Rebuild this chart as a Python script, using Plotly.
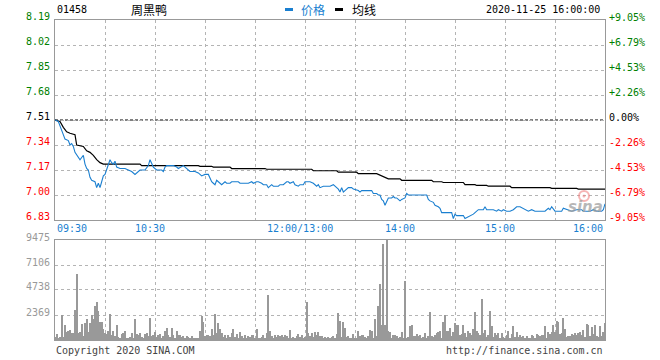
import plotly.graph_objects as go

# ---------------- data ----------------
stock_code = "01458"
stock_name = "周黑鸭"
timestamp = "2020-11-25 16:00:00"
prev_close = 7.51

# trading minutes since 09:30 (lunch break removed: 150 = 12:00/13:00)
price_minutes = [0, 2, 3, 4, 6, 8, 9, 10, 11, 12, 14, 15, 17, 18, 19, 20, 21, 22, 24, 25,
                 26, 27, 28, 29, 30, 31, 32, 33, 34, 35, 36, 37, 39, 42, 44, 46, 48, 49, 51, 54,
                 56, 57, 58, 59, 61, 64, 65, 66, 67, 69, 71, 73, 74, 77, 79, 80, 81, 84, 86, 88,
                 90, 92, 93, 94, 95, 96, 97, 98, 100, 102, 103, 105, 106, 108, 110, 111, 116, 118, 119, 121,
                 122, 124, 125, 127, 128, 130, 131, 134, 135, 137, 139, 140, 141, 143, 144, 146, 147, 149, 150, 151,
                 153, 155, 156, 157, 158, 159, 161, 163, 165, 167, 169, 170, 171, 172, 173, 175, 176, 178, 179, 182,
                 183, 184, 190, 191, 193, 194, 195, 196, 197, 198, 199, 200, 202, 203, 204, 205, 206, 207, 208, 210,
                 211, 212, 213, 216, 219, 221, 223, 224, 225, 227, 228, 230, 231, 232, 233, 235, 237, 238, 239, 240,
                 241, 242, 245, 246, 248, 249, 251, 252, 254, 255, 257, 258, 259, 262, 263, 265, 266, 268, 269, 271,
                 273, 275, 277, 279, 281, 282, 284, 286, 288, 291, 294, 296, 297, 298, 300, 302, 304, 305, 307, 310,
                 313, 316, 317, 319, 321, 323, 325, 328, 329, 330]
price_values = [7.51, 7.50, 7.47, 7.44, 7.38, 7.37, 7.34, 7.35, 7.33, 7.29, 7.26, 7.24, 7.27, 7.21, 7.18, 7.17, 7.12, 7.10, 7.09, 7.05,
                7.08, 7.05, 7.09, 7.13, 7.14, 7.17, 7.20, 7.24, 7.22, 7.21, 7.23, 7.19, 7.18, 7.18, 7.17, 7.16, 7.14, 7.15, 7.17, 7.17,
                7.20, 7.24, 7.22, 7.19, 7.17, 7.17, 7.16, 7.19, 7.20, 7.20, 7.20, 7.19, 7.18, 7.20, 7.18, 7.17, 7.16, 7.16, 7.15, 7.13,
                7.14, 7.14, 7.11, 7.09, 7.08, 7.07, 7.10, 7.09, 7.07, 7.09, 7.08, 7.08, 7.09, 7.09, 7.09, 7.08, 7.08, 7.09, 7.08, 7.09,
                7.09, 7.08, 7.07, 7.07, 7.05, 7.07, 7.06, 7.06, 7.07, 7.07, 7.09, 7.09, 7.08, 7.09, 7.07, 7.06, 7.07, 7.07, 7.09, 7.09,
                7.09, 7.08, 7.07, 7.06, 7.07, 7.05, 7.06, 7.06, 7.06, 7.07, 7.05, 7.04, 7.02, 7.05, 7.02, 7.04, 7.05, 7.05, 7.04, 7.03,
                7.02, 7.03, 7.03, 7.01, 7.01, 7.00, 7.00, 6.97, 6.96, 6.93, 6.95, 6.98, 6.98, 6.99, 6.98, 6.98, 6.97, 6.96, 6.97, 6.98,
                7.01, 7.00, 7.00, 7.00, 7.00, 7.00, 7.00, 6.97, 6.96, 6.95, 6.93, 6.92, 6.91, 6.88, 6.88, 6.88, 6.88, 6.88, 6.84, 6.87,
                6.86, 6.86, 6.86, 6.84, 6.85, 6.86, 6.87, 6.88, 6.90, 6.90, 6.90, 6.92, 6.90, 6.90, 6.90, 6.89, 6.90, 6.89, 6.90, 6.89,
                6.89, 6.90, 6.92, 6.92, 6.91, 6.90, 6.89, 6.90, 6.89, 6.89, 6.89, 6.91, 6.90, 6.92, 6.89, 6.89, 6.89, 6.91, 6.90, 6.89,
                6.90, 6.90, 6.89, 6.89, 6.89, 6.90, 6.89, 6.89, 6.90, 6.94]

avg_minutes = [0, 3, 5, 7, 9, 12, 13, 17, 19, 21, 23, 25, 27, 29, 51, 52, 86, 87, 94, 95,
               105, 106, 126, 127, 154, 155, 169, 170, 181, 182, 193, 196, 199, 200, 207, 208, 226, 227, 232, 233,
               245, 246, 252, 253, 259, 260, 273, 274, 297, 298, 313, 314, 330]
avg_values = [7.51, 7.50, 7.46, 7.43, 7.42, 7.41, 7.34, 7.33, 7.30, 7.29, 7.27, 7.24, 7.22, 7.21, 7.21, 7.20, 7.20, 7.195, 7.195, 7.19,
              7.19, 7.18, 7.18, 7.175, 7.175, 7.165, 7.165, 7.155, 7.155, 7.145, 7.145, 7.13, 7.12, 7.11, 7.11, 7.10, 7.10, 7.09, 7.09, 7.085,
              7.085, 7.07, 7.07, 7.065, 7.065, 7.06, 7.06, 7.05, 7.05, 7.045, 7.045, 7.04, 7.04]

# per-minute volume, minute 0..330
volume = [
    300, 570, 190, 250, 2400, 250, 1450, 760, 820, 980,
    660, 630, 2880, 6290, 630, 760, 1520, 350, 1610, 2020,
    760, 1610, 2400, 2020, 3250, 3600, 2780, 1710, 1710, 1070,
    630, 570, 820, 2460, 500, 880, 350, 1390, 250, 190,
    570, 660, 880, 190, 130, 250, 660, 190, 2020, 570,
    500, 660, 250, 190, 570, 660, 350, 2090, 350, 500,
    760, 250, 440, 570, 190, 350, 880, 1140, 500, 250,
    1140, 500, 190, 820, 500, 500, 250, 350, 130, 350,
    250, 190, 350, 190, 130, 130, 190, 880, 2240, 1710,
    350, 440, 500, 350, 1070, 500, 2460, 660, 1610, 1070,
    660, 250, 500, 190, 500, 250, 660, 1070, 250, 570,
    190, 760, 350, 190, 440, 190, 350, 250, 500, 500,
    190, 1070, 190, 130, 250, 440, 190, 660, 4300, 820,
    350, 190, 500, 250, 500, 350, 500, 250, 500, 350,
    190, 980, 190, 250, 130, 350, 570, 250, 440, 190,
    250, 3600, 660, 350, 660, 250, 760, 500, 760, 350,
    350, 190, 250, 190, 250, 190, 250, 350, 190, 570,
    2560, 1830, 250, 1710, 1140, 250, 350, 130, 130, 570,
    130, 190, 880, 350, 500, 500, 250, 190, 350, 980,
    820, 190, 2020, 350, 3250, 5310, 1390, 9130, 1390, 9475,
    880, 760, 190, 500, 440, 350, 190, 250, 760, 190,
    5560, 190, 250, 1300, 1450, 350, 350, 570, 350, 500,
    190, 250, 660, 190, 350, 2650, 350, 250, 500, 660,
    760, 880, 190, 1710, 2340, 820, 880, 1140, 350, 760,
    1610, 1390, 1450, 500, 570, 1390, 660, 250, 820, 660,
    500, 1070, 2650, 880, 660, 500, 3920, 660, 980, 250,
    500, 2780, 1300, 250, 660, 500, 660, 190, 660, 250,
    190, 440, 820, 190, 570, 1300, 250, 760, 250, 500,
    250, 350, 190, 350, 130, 190, 440, 350, 190, 570,
    500, 350, 440, 440, 1300, 190, 760, 570, 760, 1390,
    760, 1830, 1710, 570, 660, 2090, 1070, 250, 350, 350,
    570, 500, 660, 500, 660, 760, 440, 980, 250, 1520,
    1390, 350, 1200, 570, 1390, 350, 250, 1300, 350, 760,
    1610,
]
volume_minutes = list(range(len(volume)))

price_ticks = [6.83, 7.00, 7.17, 7.34, 7.51, 7.68, 7.85, 8.02, 8.19]
price_tick_labels = ["6.83", "7.00", "7.17", "7.34", "7.51", "7.68", "7.85", "8.02", "8.19"]
pct_tick_labels = ["-9.05%", "-6.79%", "-4.53%", "-2.26%", "0.00%", "+2.26%", "+4.53%", "+6.79%", "+9.05%"]
vol_ticks = [2369, 4738, 7106, 9475]
vol_tick_labels = ["2369", "4738", "7106", "9475"]
time_minutes = [0, 60, 150, 210, 270, 330]
time_labels = ["09:30", "10:30", "12:00/13:00", "14:00", "15:00", "16:00"]
grid_minutes = list(range(0, 331, 30))

# ---------------- styling ----------------
W, H = 660, 360
L, R = 55, 605
P_TOP, P_BOT = 20, 220
V_TOP, V_BOT = 240, 340
MONO = "DejaVu Sans Mono"
CJK = "Noto Sans CJK SC"
BLUE = "#1a7fd0"
GREEN = "#008000"
RED = "#ff0000"
GRID = "#b4b4b4"
FRAME = "#999999"


def px(xp):
    return xp / W


def py(yp):
    return 1 - yp / H


fig = go.Figure()
fig.add_trace(go.Bar(x=volume_minutes, y=volume, width=0.6,
                     marker=dict(color="#999999", line=dict(width=0)),
                     xaxis="x2", yaxis="y2", hoverinfo="skip"))
fig.add_trace(go.Scatter(x=avg_minutes, y=avg_values, mode="lines",
                         line=dict(color="#000000", width=1.2), xaxis="x", yaxis="y"))
fig.add_trace(go.Scatter(x=price_minutes, y=price_values, mode="lines",
                         line=dict(color=BLUE, width=1.1), xaxis="x", yaxis="y"))

axis_common = dict(showgrid=True, gridcolor=GRID, griddash="dot", gridwidth=1,
                   zeroline=False, showline=True, linecolor=FRAME, linewidth=1,
                   mirror=True, ticks="", showticklabels=False, fixedrange=True)

fig.update_layout(
    width=W, height=H, margin=dict(l=0, r=0, t=0, b=0),
    paper_bgcolor="white", plot_bgcolor="white", showlegend=False,
    bargap=0,
    xaxis=dict(domain=[px(L), px(R)], range=[0, 330], tickvals=grid_minutes,
               anchor="y", **axis_common),
    yaxis=dict(domain=[py(P_BOT), py(P_TOP)], range=[price_ticks[0], price_ticks[-1]],
               tickvals=price_ticks, anchor="x", **axis_common),
    xaxis2=dict(domain=[px(L), px(R)], range=[0, 330], tickvals=grid_minutes,
                anchor="y2", **axis_common),
    yaxis2=dict(domain=[py(V_BOT), py(V_TOP)], range=[0, vol_ticks[-1]],
                tickvals=vol_ticks, anchor="x2", **axis_common),
)

# previous close dashed line
fig.add_shape(type="line", xref="x", yref="y", x0=0, x1=330, y0=prev_close, y1=prev_close,
              line=dict(color="black", width=1, dash="3px,2px"), layer="below")

ann = []
# left price labels and right percentage labels
for v, lab, pct in zip(price_ticks, price_tick_labels, pct_tick_labels):
    col = GREEN if v > prev_close + 1e-9 else (RED if v < prev_close - 1e-9 else "#000000")
    ann.append(dict(x=px(52), xref="paper", y=v, yref="y", text=lab, showarrow=False,
                    xanchor="right", yanchor="middle", yshift=3.5,
                    font=dict(family=MONO, size=10, color=col)))
    ann.append(dict(x=px(607), xref="paper", y=v, yref="y", text=pct, showarrow=False,
                    xanchor="left", yanchor="middle", yshift=3,
                    font=dict(family=MONO, size=10, color=col)))
# volume labels
for v, lab in zip(vol_ticks, vol_tick_labels):
    ann.append(dict(x=px(52), xref="paper", y=v, yref="y2", text=lab, showarrow=False,
                    xanchor="right", yanchor="middle", yshift=3,
                    font=dict(family=MONO, size=10, color="#999999")))
# time labels
for i, (m, lab) in enumerate(zip(time_minutes, time_labels)):
    if i == 0:
        xa, xs = "left", 0
    elif i == len(time_minutes) - 1:
        xa, xs = "right", 0
    else:
        xa, xs = "center", -5
    ann.append(dict(x=m, xref="x", y=py(228), yref="paper", text=lab, showarrow=False,
                    xanchor=xa, yanchor="middle", xshift=xs,
                    font=dict(family=MONO, size=10, color=BLUE)))
# header
ann.append(dict(x=px(55), y=py(9), xref="paper", yref="paper", text=stock_code, showarrow=False,
                xanchor="left", yanchor="middle", font=dict(family=MONO, size=10, color="#000000")))
ann.append(dict(x=px(129), y=py(9), xref="paper", yref="paper", text=stock_name, showarrow=False,
                xanchor="left", yanchor="middle", font=dict(family=CJK, size=12, color="#000000")))
ann.append(dict(x=px(299), y=py(9), xref="paper", yref="paper", text="价格", showarrow=False,
                xanchor="left", yanchor="middle", font=dict(family=CJK, size=12, color=BLUE)))
ann.append(dict(x=px(350), y=py(9), xref="paper", yref="paper", text="均线", showarrow=False,
                xanchor="left", yanchor="middle", font=dict(family=CJK, size=12, color="#000000")))
ann.append(dict(x=px(602), y=py(9), xref="paper", yref="paper", text=timestamp, showarrow=False,
                xanchor="right", yanchor="middle", font=dict(family=MONO, size=10, color="#000000")))
# footer
ann.append(dict(x=px(54), y=py(350), xref="paper", yref="paper", text="Copyright 2020 SINA.COM",
                showarrow=False, xanchor="left", yanchor="middle",
                font=dict(family=MONO, size=10, color="#444444")))
ann.append(dict(x=px(605), y=py(350), xref="paper", yref="paper", text="http://finance.sina.com.cn",
                showarrow=False, xanchor="right", yanchor="middle",
                font=dict(family=MONO, size=10, color="#444444")))
# watermark
ann.append(dict(x=px(585), y=py(207), xref="paper", yref="paper", text="<b><i>sina</i></b>",
                showarrow=False, xanchor="center", yanchor="middle",
                font=dict(family="DejaVu Sans", size=15, color="rgba(160,160,160,0.75)")))
fig.update_layout(annotations=ann)

# watermark eye logo
fig.add_shape(type="circle", xref="paper", yref="paper", x0=px(579), x1=px(589), y0=py(201), y1=py(191),
              line=dict(color="rgba(240,130,130,0.6)", width=2), fillcolor="rgba(255,255,255,0)")
fig.add_shape(type="circle", xref="paper", yref="paper", x0=px(582.5), x1=px(585.5), y0=py(197.5), y1=py(194.5),
              line=dict(width=0), fillcolor="rgba(240,130,130,0.6)")

# legend swatches
fig.add_shape(type="rect", xref="paper", yref="paper", x0=px(285), x1=px(293), y0=py(11), y1=py(8),
              fillcolor=BLUE, line=dict(width=0))
fig.add_shape(type="rect", xref="paper", yref="paper", x0=px(335), x1=px(343), y0=py(11), y1=py(8),
              fillcolor="#000000", line=dict(width=0))

fig.write_html("out.html", config={"displayModeBar": False},
               post_script="document.body.style.margin='0';document.body.style.overflow='hidden';")
